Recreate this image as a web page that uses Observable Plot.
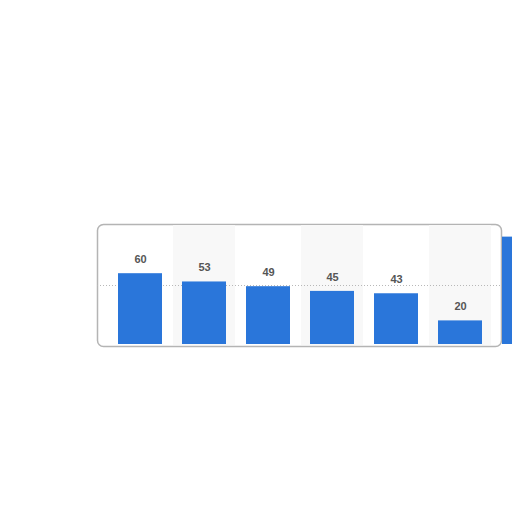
<!DOCTYPE html>
<html>
<head>
<meta charset="utf-8">
<script src="https://cdn.jsdelivr.net/npm/d3@7"></script>
<script src="https://cdn.jsdelivr.net/npm/@observablehq/plot@0.6"></script>
<style>
  html, body { margin: 0; padding: 0; background: #fff; overflow: hidden; width: 512px; height: 512px; }
  #chart svg { max-width: none !important; display: block; }
  #chart g[aria-label="frame"] { filter: drop-shadow(-1px 2px 2px rgba(0,0,0,0.35)); }
</style>
</head>
<body>
<div id="chart"></div>
<script>
const categories = ["Cat 1", "Cat 2", "Cat 3", "Cat 4", "Cat 5", "Cat 6", "Cat 7"];
const values = [60, 53, 49, 45, 43, 20, 91];
const labels = ["60", "53", "49", "45", "43", "20", ""];
const shaded = [false, true, false, true, false, true, false];
const gridValues = [50];

const data = categories.map((c, i) => ({category: c, value: values[i], label: labels[i], shaded: shaded[i]}));

const chart = Plot.plot({
  width: 600,
  height: 512,
  marginLeft: 97,
  marginRight: 99,
  marginTop: 224,
  marginBottom: 166,
  x: {domain: categories, range: [108, 556], padding: 0, axis: null},
  y: {domain: [0, 100], range: [344, 226], axis: null},
  marks: [
    Plot.frame({fill: "#ffffff", stroke: "#b4b4b4", strokeWidth: 1.5, rx: 6}),
    Plot.cell(data.filter(d => d.shaded), {x: "category", fill: "#f8f8f8", inset: 1}),
    Plot.ruleY(gridValues, {stroke: "#b8b8b8", strokeDasharray: "1,2", strokeWidth: 1}),
    Plot.barY(data, {x: "category", y: "value", fill: "#2a76da", insetLeft: 10, insetRight: 10}),
    Plot.text(data.filter(d => d.label !== ""), {
      x: "category", y: "value", text: "label", dy: -14,
      fill: "#555555", fontSize: 11, fontWeight: "bold",
      fontFamily: "Liberation Sans, Arial, sans-serif"
    })
  ]
});
document.getElementById("chart").appendChild(chart);
</script>
</body>
</html>
